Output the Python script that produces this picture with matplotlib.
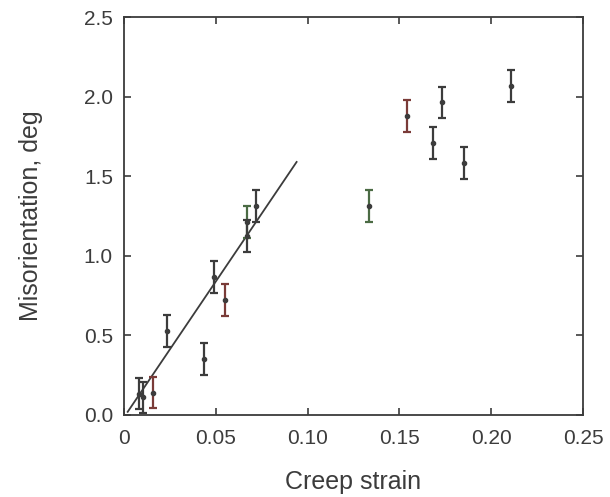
import numpy as np
import matplotlib
matplotlib.use("Agg")
import matplotlib.pyplot as plt

plt.rcParams['font.family'] = ['Liberation Sans', 'DejaVu Sans']

# measured points (creep strain, misorientation in deg), error +/- 0.1 deg
strain = [0.0082, 0.0105, 0.0156, 0.0233, 0.0437, 0.0492, 0.0550, 0.0672, 0.0672,
          0.0719, 0.1336, 0.1543, 0.1681, 0.1734, 0.1853, 0.2106]
misor = [0.135, 0.11, 0.141, 0.528, 0.352, 0.867, 0.722, 1.212, 1.127,
         1.313, 1.311, 1.881, 1.707, 1.964, 1.583, 2.067]
err = [0.1] * len(strain)
# scan tint of each bar
tint = ['k', 'k', 'r', 'k', 'k', 'k', 'r', 'g', 'k',
        'k', 'g', 'r', 'k', 'k', 'k', 'k']

# straight fit line through the low-strain data
fit_x = [0.002, 0.094]
fit_y = [0.02, 1.59]

colors = {'k': '#3c3c3c', 'r': '#7a3b38', 'g': '#4b6b44'}

fig = plt.figure(figsize=(6.1, 4.97), dpi=100)
ax = fig.add_axes([0.2033, 0.165, 0.7525, 0.8005])

ax.plot(fit_x, fit_y, color='#3c3c3c', lw=1.3, zorder=2)
for x, y, e, t in zip(strain, misor, err, tint):
    ax.errorbar(x, y, yerr=e, fmt='o', color=colors[t], mfc='#3c3c3c', mec='#3c3c3c',
                ms=3, elinewidth=1.6, capsize=3, capthick=1.6, zorder=3)

ax.set_xlim(0, 0.25)
ax.set_ylim(0, 2.5)
ax.set_xticks([0, 0.05, 0.10, 0.15, 0.20, 0.25])
ax.set_xticklabels(['0', '0.05', '0.10', '0.15', '0.20', '0.25'])
ax.set_yticks([0, 0.5, 1.0, 1.5, 2.0, 2.5])
ax.set_yticklabels(['0.0', '0.5', '1.0', '1.5', '2.0', '2.5'])
ax.tick_params(direction='in', top=True, right=True, length=5, width=1.2,
               labelsize=15, colors='#3c3c3c')
ax.tick_params(axis='x', pad=10)
ax.tick_params(axis='y', pad=8)
for s in ax.spines.values():
    s.set_linewidth(1.3)
    s.set_color('#3c3c3c')

ax.set_xlabel('Creep strain', fontsize=18, color='#3c3c3c', labelpad=16)
ax.set_ylabel('Misorientation, deg', fontsize=18, color='#3c3c3c', labelpad=29)

fig.savefig('out.png', dpi=100)
